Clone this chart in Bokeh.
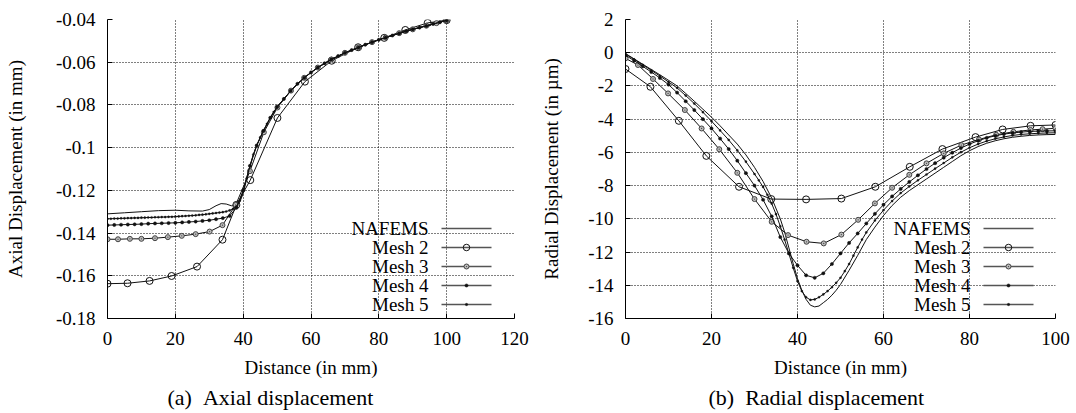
from bokeh.plotting import figure
from bokeh.layouts import row
from bokeh.models import Range1d, FixedTicker, Label, Title
from bokeh.embed import file_html
from bokeh.resources import INLINE

FONT = "Liberation Serif"
FS = "19px"

# ---------------- (a) Axial displacement ----------------
ax_xticks = [0, 20, 40, 60, 80, 100, 120]
ax_yticks = [-0.18, -0.16, -0.14, -0.12, -0.1, -0.08, -0.06, -0.04]
ax_ylabels = ["-0.18", "-0.16", "-0.14", "-0.12", "-0.1", "-0.08", "-0.06", "-0.04"]

ax_nafems_x = [0, 5, 10, 15, 20, 24, 28, 30, 32, 33.5, 35, 36.5, 38, 39, 40, 41, 42, 43, 44, 46,
               48, 50, 52, 54, 56, 58, 60, 62, 64, 66, 68, 70, 72, 74, 76, 78, 80, 82, 84, 86,
               88, 90, 92, 94, 96, 98, 100]
ax_nafems_y = [-0.1310, -0.1305, -0.1300, -0.1295, -0.1293, -0.1296, -0.1297, -0.1290, -0.1272, -0.1262,
               -0.1264, -0.1272, -0.1274, -0.1255, -0.1215, -0.1150, -0.1090, -0.1035, -0.0990, -0.0922,
               -0.0860, -0.0810, -0.0772, -0.0735, -0.0702, -0.0674, -0.0648, -0.0626, -0.0606, -0.0588,
               -0.0572, -0.0557, -0.0544, -0.0532, -0.0519, -0.0506, -0.0495, -0.0485, -0.0475, -0.0465,
               -0.0455, -0.0446, -0.0438, -0.0430, -0.0422, -0.0413, -0.0404]

ax_mesh2_x = [0, 5.9, 12.4, 18.9, 26.4, 33.9, 38.0, 42.1, 50.1, 58.2, 66.1, 73.9, 81.6, 87.8, 94.4, 100]
ax_mesh2_y = [-0.1637, -0.1635, -0.1624, -0.1601, -0.1557, -0.1431, -0.1268, -0.1152, -0.0861, -0.0691,
              -0.0593, -0.0530, -0.0486, -0.0449, -0.0416, -0.0403]

ax_mesh3_x = [0, 3.1, 6.6, 10.0, 14.0, 17.8, 21.9, 26.0, 30.1, 33.9, 37.8, 42.0, 46.1, 50.1, 54.1,
              58.0, 62.0, 66.0, 70.0, 74.0, 78.0, 82.0, 86.0, 90.0, 94.0, 97.0, 100]
ax_mesh3_y = [-0.1429, -0.1429, -0.1427, -0.1427, -0.1424, -0.1419, -0.1413, -0.1405, -0.1393, -0.1363,
              -0.1268, -0.1110, -0.0928, -0.0812, -0.0733, -0.0673, -0.0625, -0.0587, -0.0556, -0.0531,
              -0.0506, -0.0485, -0.0464, -0.0446, -0.0429, -0.0417, -0.0404]

ax_mesh4_x = [0, 2, 4, 6, 8, 10, 12, 14, 16, 18, 20, 22, 24, 26, 28, 30, 32, 34, 36, 38,
              40, 42, 44, 46, 48, 50, 52, 54, 56, 58, 60, 62, 64, 66, 68, 70, 72, 74, 76, 78,
              80, 82, 84, 86, 88, 90, 92, 94, 96, 98, 100]
ax_mesh4_y = [-0.1363, -0.1362, -0.1361, -0.1360, -0.1359, -0.1358, -0.1356, -0.1355, -0.1354, -0.1353,
              -0.1352, -0.1350, -0.1348, -0.1346, -0.1343, -0.1340, -0.1335, -0.1330, -0.1320, -0.1282,
              -0.1200, -0.1085, -0.0990, -0.0921, -0.0860, -0.0810, -0.0772, -0.0734, -0.0701, -0.0673,
              -0.0648, -0.0625, -0.0605, -0.0587, -0.0571, -0.0556, -0.0543, -0.0531, -0.0518, -0.0506,
              -0.0495, -0.0485, -0.0475, -0.0465, -0.0455, -0.0446, -0.0438, -0.0430, -0.0421, -0.0413,
              -0.0404]

ax_mesh5_x = [0, 1, 2, 3, 4, 5, 6, 7, 8, 9, 10, 11, 12, 13, 14, 15, 16, 17, 18, 19,
              20, 21, 22, 23, 24, 25, 26, 27, 28, 29, 30, 31, 32, 33, 34, 35, 36, 37, 38, 39,
              40, 41, 42, 43, 44, 45, 46, 47, 48, 49, 50, 52, 54, 56, 58, 60, 62, 64, 66, 68,
              70, 72, 74, 76, 78, 80, 82, 84, 86, 88, 90, 92, 94, 96, 98, 100]
ax_mesh5_y = [-0.1333, -0.1333, -0.1332, -0.1332, -0.1331, -0.1331, -0.1330, -0.1330, -0.1329, -0.1329,
              -0.1328, -0.1328, -0.1327, -0.1327, -0.1326, -0.1326, -0.1325, -0.1325, -0.1324, -0.1324,
              -0.1323, -0.1322, -0.1321, -0.1320, -0.1319, -0.1318, -0.1317, -0.1315, -0.1314, -0.1312,
              -0.1310, -0.1308, -0.1306, -0.1304, -0.1302, -0.1299, -0.1294, -0.1287, -0.1276, -0.1248,
              -0.1205, -0.1145, -0.1085, -0.1032, -0.0988, -0.0952, -0.0920, -0.0889, -0.0859, -0.0833,
              -0.0809, -0.0771, -0.0734, -0.0701, -0.0673, -0.0647, -0.0625, -0.0605, -0.0587, -0.0571,
              -0.0556, -0.0543, -0.0531, -0.0518, -0.0506, -0.0495, -0.0485, -0.0475, -0.0465, -0.0455,
              -0.0446, -0.0438, -0.0430, -0.0421, -0.0413, -0.0404]

# ---------------- (b) Radial displacement ----------------
rd_xticks = [0, 20, 40, 60, 80, 100]
rd_yticks = [-16, -14, -12, -10, -8, -6, -4, -2, 0, 2]
rd_ylabels = ["-16", "-14", "-12", "-10", "-8", "-6", "-4", "-2", "0", "2"]

rd_nafems_x = [0, 2, 4, 6, 8, 10, 12, 14, 16, 18, 20, 22, 24, 26, 28, 30, 32, 34, 36,
               37, 38, 39, 40, 41, 42, 43, 44, 45, 46, 47, 48, 49, 50,
               52, 54, 56, 58, 60, 62, 64, 66, 68, 70, 72, 74, 76, 78, 80, 82, 84, 86, 88, 90,
               92, 94, 96, 98, 100]
rd_nafems_y = [-0.05, -0.37, -0.69, -1.01, -1.33, -1.66, -2.0, -2.45, -2.92, -3.4, -3.88, -4.4, -4.95,
               -5.5, -6.15, -6.9, -7.75, -8.75, -10.0,
               -10.8, -11.75, -12.7, -13.6, -14.3, -14.85, -15.2, -15.3, -15.25, -15.05, -14.85, -14.6,
               -14.3, -13.95,
               -13.1, -12.2, -11.25, -10.5, -9.8, -9.2, -8.7, -8.3, -7.95, -7.6, -7.25, -6.9, -6.55,
               -6.2, -5.9, -5.65, -5.45, -5.3, -5.18, -5.09, -5.03, -4.98, -4.95, -4.93, -4.92]

rd_mesh2_x = [0, 5.8, 12.4, 18.8, 26.4, 33.9, 42.0, 50.2, 58.1, 66.1, 73.7, 81.4, 87.7, 94.2, 100]
rd_mesh2_y = [-0.98, -2.05, -4.1, -6.21, -8.07, -8.81, -8.83, -8.78, -8.07, -6.87, -5.8, -5.08, -4.62,
              -4.4, -4.35]

rd_mesh3_x = [0, 2.9, 6.4, 9.9, 13.8, 17.7, 21.8, 26.0, 30.0, 34.0, 37.8, 42.1, 46.1, 50.2, 54.1,
              58.0, 62.0, 66.0, 70.0, 74.0, 78.1, 82.2, 86.2, 90.2, 94.2, 97.0, 100]
rd_mesh3_y = [-0.34, -0.74, -1.58, -2.45, -3.45, -4.56, -5.81, -7.23, -8.81, -10.18,
              -10.98, -11.38, -11.48, -10.95, -10.06, -9.07, -8.13, -7.35, -6.66, -6.06,
              -5.56, -5.22, -4.94, -4.76, -4.65, -4.6, -4.55]

rd_mesh4_x = [0, 2, 4, 6, 8, 10, 12, 14, 16, 18, 20, 22, 24, 26, 28, 30, 32, 34, 36, 38,
              40, 42, 44, 46, 48, 50, 52, 54, 56, 58, 60, 62, 64, 66, 68, 70, 72, 74, 76, 78,
              80, 82, 84, 86, 88, 90, 92, 94, 96, 98, 100]
rd_mesh4_y = [-0.15, -0.48, -0.82, -1.16, -1.52, -1.92, -2.4, -2.92, -3.45, -4.0,
              -4.56, -5.17, -5.8, -6.5, -7.25, -8.0, -8.85, -9.85, -11.1, -12.08,
              -12.8, -13.4, -13.55, -13.28, -12.72, -12.08, -11.45, -10.88, -10.28, -9.7,
              -9.15, -8.65, -8.2, -7.78, -7.38, -7.0, -6.65, -6.32, -6.02, -5.74,
              -5.5, -5.3, -5.13, -5.0, -4.9, -4.83, -4.78, -4.74, -4.72, -4.71, -4.7]

rd_mesh5_x = [0, 2, 4, 6, 8, 10, 12, 14, 16, 18, 20, 22, 24, 26, 28, 30,
              31, 32, 33, 34, 35, 36, 37, 38, 39, 40, 41, 42, 43, 44, 45, 46, 47, 48, 49, 50,
              51, 52, 53, 54, 55, 56,
              58, 60, 62, 64, 66, 68, 70, 72, 74, 76, 78, 80, 82, 84, 86, 88, 90, 92, 94, 96, 98, 100]
rd_mesh5_y = [-0.08, -0.40, -0.73, -1.06, -1.40, -1.76, -2.12, -2.58, -3.06, -3.58, -4.12, -4.68,
              -5.25, -5.88, -6.56, -7.30,
              -7.68, -8.08, -8.55, -9.08, -9.72, -10.45, -11.25, -12.1, -12.95, -13.75, -14.35,
              -14.72, -14.88, -14.85, -14.72, -14.55, -14.35, -14.12, -13.85, -13.55,
              -13.15, -12.72, -12.22, -11.72, -11.25, -10.82,
              -10.1, -9.48, -8.93, -8.45, -8.05, -7.68, -7.33, -6.98, -6.64, -6.3, -5.99, -5.72,
              -5.5, -5.32, -5.18, -5.07, -4.98, -4.92, -4.88, -4.85, -4.83, -4.82]

legend_names = ["NAFEMS", "Mesh 2", "Mesh 3", "Mesh 4", "Mesh 5"]

FIG_W, FIG_H = 538, 413
B_TOP, B_BOTTOM = 19, 95

STYLES = [
    None,
    dict(marker="circle", line_color="#111", fill_color=None, line_width=1),
    dict(marker="circle_dot", line_color="#444", fill_color="#bbbbbb", line_width=1),
    dict(marker="circle", line_color="#111", fill_color="#111", line_width=0.5),
    dict(marker="circle", line_color="#111", fill_color="#111", line_width=0.3),
]
PLOT_SIZES = [0, 7, 5, 3.2, 2.2]
LEG_SIZES = [0, 6.5, 5, 3.2, 2.5]


def make_panel(xr, yr, xticks, yticks, ylabels, ytitle, b_left, b_right, ystand, series,
               leg_text_x, leg_glyph_x, caption, cap_offset):
    p = figure(width=FIG_W, height=FIG_H, x_range=Range1d(*xr), y_range=Range1d(*yr),
               output_backend="svg", toolbar_location=None,
               min_border_left=b_left, min_border_right=b_right,
               min_border_top=B_TOP, min_border_bottom=B_BOTTOM)
    fw = FIG_W - b_left - b_right
    fh = FIG_H - B_TOP - B_BOTTOM
    p.extra_x_ranges = {"px": Range1d(0, fw)}
    p.extra_y_ranges = {"px": Range1d(0, fh)}
    p.outline_line_color = None
    xt = FixedTicker(ticks=xticks)
    yt = FixedTicker(ticks=yticks)
    p.xaxis.ticker = xt
    p.yaxis.ticker = yt
    p.xgrid.ticker = xt
    p.ygrid.ticker = yt
    p.yaxis.major_label_overrides = {t: l for t, l in zip(yticks, ylabels)}
    for g in (p.xgrid, p.ygrid):
        g.grid_line_color = "black"
        g.grid_line_dash = "1 2"
        g.grid_line_width = 1
    for ax in (p.xaxis[0], p.yaxis[0]):
        ax.axis_line_color = "black"
        ax.major_tick_in = 5
        ax.major_tick_out = 0
        ax.minor_tick_line_color = None
        ax.major_tick_line_color = "black"
        ax.major_label_text_font = FONT
        ax.major_label_text_font_size = FS
        ax.major_label_text_color = "black"
        ax.axis_label_text_font = FONT
        ax.axis_label_text_font_size = FS
        ax.axis_label_text_font_style = "normal"
        ax.axis_label_text_color = "black"
    p.xaxis[0].axis_label = "Distance (in mm)"
    p.xaxis[0].major_label_standoff = 13
    p.xaxis[0].axis_label_standoff = 9
    p.yaxis[0].axis_label = ytitle
    p.yaxis[0].major_label_standoff = 12
    p.yaxis[0].axis_label_standoff = ystand

    for (xs, ys), st, sz in zip(series, STYLES, PLOT_SIZES):
        p.line(xs, ys, line_color="#111", line_width=1)
        if st is not None:
            p.scatter(xs, ys, size=sz, **st)

    # key (sample line on the right of each name, as in the original)
    for i, name in enumerate(legend_names):
        yrow = 90 - 19 * i
        p.segment(x0=[leg_glyph_x], y0=[yrow], x1=[leg_glyph_x + 50], y1=[yrow],
                  line_color="#555", line_width=1.5, x_range_name="px", y_range_name="px")
        if STYLES[i] is not None:
            p.scatter([leg_glyph_x + 25], [yrow], size=LEG_SIZES[i], x_range_name="px",
                      y_range_name="px", **STYLES[i])
        p.add_layout(Label(x=leg_text_x, y=yrow, x_units="screen", y_units="screen",
                           text=name, text_align="right", text_baseline="middle",
                           text_font=FONT, text_font_size=FS, text_color="black"))

    cap = Title(text=caption, align="left", offset=cap_offset, text_font=FONT,
                text_font_size="22px", text_font_style="normal", text_color="black",
                standoff=5)
    p.add_layout(cap, "below")
    return p


p1 = make_panel((0, 120), (-0.18, -0.04), ax_xticks, ax_yticks, ax_ylabels,
                "Axial Displacement (in mm)", 107, 24, 27,
                [(ax_nafems_x, ax_nafems_y), (ax_mesh2_x, ax_mesh2_y), (ax_mesh3_x, ax_mesh3_y),
                 (ax_mesh4_x, ax_mesh4_y), (ax_mesh5_x, ax_mesh5_y)],
                321, 334, "(a)\u00a0\u00a0Axial displacement", 60)
p2 = make_panel((0, 100), (-16, 2), rd_xticks, rd_yticks, rd_ylabels,
                "Radial Displacement (in \u00b5m)", 87, 21, 23,
                [(rd_nafems_x, rd_nafems_y), (rd_mesh2_x, rd_mesh2_y), (rd_mesh3_x, rd_mesh3_y),
                 (rd_mesh4_x, rd_mesh4_y), (rd_mesh5_x, rd_mesh5_y)],
                345, 358, "(b)\u00a0\u00a0Radial displacement", 83)

layout = row(p1, p2)
open("out.html", "w").write(file_html(layout, INLINE))
